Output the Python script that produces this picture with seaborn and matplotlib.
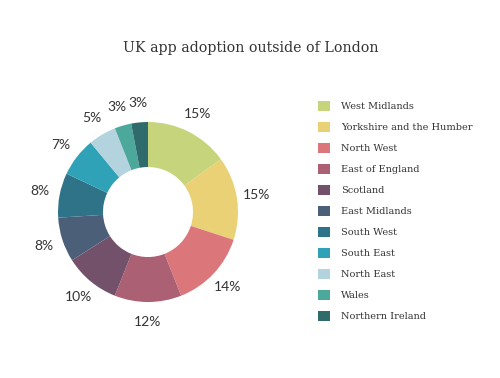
import matplotlib
matplotlib.use("Agg")
from matplotlib import pyplot as plt
from matplotlib.patches import Patch
import seaborn as sns

# data
regions = ["West Midlands", "Yorkshire and the Humber", "North West", "East of England",
           "Scotland", "East Midlands", "South West", "South East", "North East",
           "Wales", "Northern Ireland"]
shares = [15, 15, 14, 12, 10, 8, 8, 7, 5, 3, 3]
colours = ["#c6d57c", "#ebd175", "#db777a", "#ab6073", "#74516a", "#4b5f79",
           "#2f7389", "#30a2b7", "#b3d3de", "#4ca89b", "#2f6a6c"]

sns.set_theme(style="white")
plt.rcParams["font.family"] = ["DejaVu Serif"]

fig = plt.figure(figsize=(5, 3.78), dpi=100)
ax = fig.add_axes([0.062, 0.1296, 0.468, 0.619])

wedges, texts, autotexts = ax.pie(
    shares,
    colors=sns.color_palette(colours),
    startangle=90,
    counterclock=False,
    wedgeprops=dict(width=0.5, edgecolor="none"),
    autopct=lambda p: f"{p:.0f}%",
    pctdistance=1.22,
    textprops=dict(fontsize=10, color="#333333", family=["Lato", "DejaVu Sans"]),
)
ax.set_xlim(-1.3, 1.3)
ax.set_ylim(-1.3, 1.3)
ax.set_aspect("equal")
ax.axis("off")

fig.text(0.502, 0.874, "UK app adoption outside of London", ha="center", va="center",
         fontsize=10.2, color="#333333")

handles = [Patch(facecolor=c, edgecolor="none") for c in colours]
fig.legend(handles, regions, loc="upper left", bbox_to_anchor=(0.618, 0.757),
           frameon=False, fontsize=7, handlelength=1.3, handleheight=1.3,
           labelspacing=1.07, handletextpad=1.1, labelcolor="#333333")

fig.savefig("out.png", dpi=100)
